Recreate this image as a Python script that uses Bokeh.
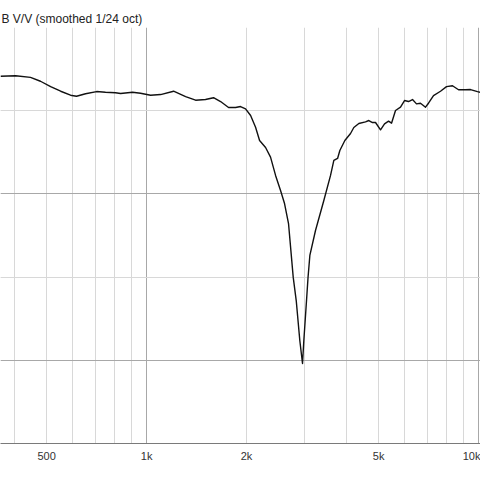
from bokeh.plotting import figure
from bokeh.models import FixedTicker, Grid
from bokeh.embed import file_html
from bokeh.resources import INLINE

# Frequency response (Hz, dB V/V)
freq = [363, 403, 447, 479, 514, 551, 590, 615, 655, 707, 752, 806, 835, 907, 959,
        1028, 1102, 1206, 1311, 1405, 1505, 1591, 1671, 1766, 1854, 1919, 1987,
        2058, 2130, 2190, 2283, 2363, 2447, 2533, 2604, 2677, 2766, 2824, 2895,
        2950, 2977, 3033, 3065, 3104, 3228, 3420, 3583, 3666, 3762, 3822, 3957,
        4116, 4211, 4360, 4567, 4673, 4794, 4895, 5068, 5211, 5358, 5470, 5623,
        5822, 5985, 6154, 6327, 6505, 6688, 6924, 7069, 7319, 7683, 8010, 8350,
        8706, 9138, 9461, 9931, 10210]
db = [-2.93, -2.90, -3.00, -3.23, -3.55, -3.83, -4.07, -4.13, -3.98, -3.85, -3.89,
      -3.92, -3.97, -3.89, -3.95, -4.07, -4.03, -3.83, -4.15, -4.37, -4.33, -4.22,
      -4.45, -4.81, -4.81, -4.75, -4.89, -5.29, -5.99, -6.79, -7.21, -7.79, -8.89,
      -9.80, -10.58, -11.78, -15.02, -16.41, -18.81, -20.19, -18.81, -16.41, -15.02,
      -13.70, -12.20, -10.40, -8.89, -7.99, -7.87, -7.39, -6.79, -6.37, -6.01,
      -5.77, -5.67, -5.59, -5.71, -5.71, -6.15, -5.79, -5.63, -5.75, -4.99, -4.79,
      -4.39, -4.45, -4.33, -4.59, -4.55, -4.79, -4.55, -4.09, -3.83, -3.55, -3.50,
      -3.74, -3.74, -3.73, -3.85, -3.91]

x_ticks = [500, 1000, 2000, 5000, 10000]
x_tick_labels = ["500", "1k", "2k", "5k", "10k"]
x_minor_grid = [400, 500, 600, 700, 800, 900, 2000, 3000, 4000, 5000, 6000, 7000, 8000, 9000]
x_major_grid = [1000, 10000]
y_major_grid = [0, -10, -20]
y_minor_grid = [-5, -15]
title_text = "B V/V (smoothed 1/24 oct)"

FONT = "Liberation Sans"

p = figure(frame_width=480, frame_height=416, x_axis_type="log",
           x_range=(363, 10140), y_range=(-25, 0),
           y_axis_location=None, output_backend="svg", toolbar_location=None,
           min_border_left=0, min_border_right=0, min_border_top=27,
           min_border_bottom=37)
p.outline_line_color = None
p.background_fill_color = "white"
p.border_fill_color = "white"

p.title.text = title_text
p.title.align = "left"
p.title.offset = 1
p.title.standoff = 3
p.title.text_font = FONT
p.title.text_font_size = "12px"
p.title.text_font_style = "normal"
p.title.text_color = "#222222"

p.xgrid.visible = False

ax = p.xaxis[0]
ax.ticker = FixedTicker(ticks=x_ticks, minor_ticks=[])
ax.major_label_overrides = {t: l for t, l in zip(x_ticks, x_tick_labels)}
ax.major_tick_in = 0
ax.major_tick_out = 0
ax.minor_tick_in = 0
ax.minor_tick_out = 0
ax.axis_line_color = "#7a7a7a"
ax.axis_line_width = 1
ax.major_label_standoff = 6
ax.major_label_text_font = FONT
ax.major_label_text_font_size = "11px"
ax.major_label_text_color = "#333333"

p.add_layout(Grid(dimension=0, ticker=FixedTicker(ticks=x_minor_grid),
                  grid_line_color="#d8d8d8", grid_line_width=1))
p.add_layout(Grid(dimension=0, ticker=FixedTicker(ticks=x_major_grid),
                  grid_line_color="#a8a8a8", grid_line_width=1))
p.add_layout(Grid(dimension=1, ticker=FixedTicker(ticks=y_minor_grid),
                  grid_line_color="#d8d8d8", grid_line_width=1))
p.add_layout(Grid(dimension=1, ticker=FixedTicker(ticks=y_major_grid),
                  grid_line_color="#a8a8a8", grid_line_width=1))

p.line(freq, db, line_color="#111111", line_width=1.4, line_join="round")

open("out.html", "w").write(file_html(p, INLINE))
